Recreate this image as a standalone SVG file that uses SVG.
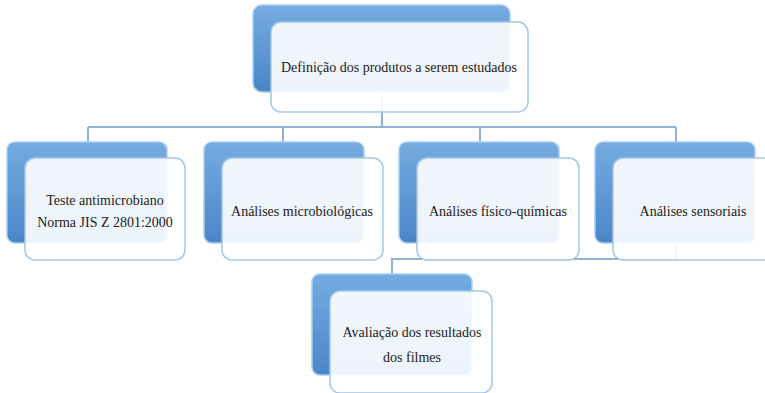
<svg xmlns="http://www.w3.org/2000/svg" width="765" height="393" viewBox="0 0 765 393">
<defs>
<linearGradient id="blue" x1="0" y1="0" x2="0" y2="1">
<stop offset="0" stop-color="#74abe0"/>
<stop offset="0.5" stop-color="#5f9ad6"/>
<stop offset="1" stop-color="#4a85c6"/>
</linearGradient>
<style>
.back{fill:url(#blue);stroke:#a9cdef;stroke-width:1.5}
.front{fill:#ffffff;fill-opacity:0.9;stroke:#a3c6e8;stroke-width:1.5}
.conn{fill:none;stroke:#8fb1d5;stroke-width:2}
.t{font-size:14px;fill:#222222;text-anchor:middle}
</style>
</defs>
<rect width="765" height="393" fill="#ffffff"/>
<g id="connectors">
<path class="conn" d="M382 92 V127 M88 127 H676 M88 127 V142 M283 127 V142 M480 127 V142 M676 127 V142"/>
<path class="conn" d="M676 243 V259 H392 V274"/>
</g>
<g id="n0">
<rect class="back" x="253" y="5" width="257" height="87" rx="9"/>
<rect class="front" x="271" y="22" width="257" height="90" rx="10"/>
<text class="t" font-family="Liberation Serif, DejaVu Serif, serif" x="399" y="72">Definição dos produtos a serem estudados</text>
</g>
<g id="n1">
<rect class="back" x="7" y="142" width="160" height="101" rx="8"/>
<rect class="front" x="25" y="158" width="160" height="102" rx="10"/>
<text class="t" font-family="Liberation Serif, DejaVu Serif, serif" x="105" y="205">Teste antimicrobiano</text>
<text class="t" font-family="Liberation Serif, DejaVu Serif, serif" x="105" y="227">Norma JIS Z 2801:2000</text>
</g>
<g id="n2">
<rect class="back" x="204" y="142" width="160" height="101" rx="8"/>
<rect class="front" x="222" y="158" width="161" height="102" rx="10"/>
<text class="t" font-family="Liberation Serif, DejaVu Serif, serif" x="302" y="216">Análises microbiológicas</text>
</g>
<g id="n3">
<rect class="back" x="399" y="142" width="160" height="101" rx="8"/>
<rect class="front" x="417" y="158" width="162" height="102" rx="10"/>
<text class="t" font-family="Liberation Serif, DejaVu Serif, serif" x="498" y="216">Análises físico-químicas</text>
</g>
<g id="n4">
<rect class="back" x="595" y="142" width="160" height="101" rx="8"/>
<rect class="front" x="613" y="158" width="161" height="102" rx="10"/>
<text class="t" font-family="Liberation Serif, DejaVu Serif, serif" x="693" y="216">Análises sensoriais</text>
</g>
<g id="n5">
<rect class="back" x="312" y="274" width="160" height="101" rx="8"/>
<rect class="front" x="330" y="291" width="162" height="102" rx="10"/>
<text class="t" font-family="Liberation Serif, DejaVu Serif, serif" x="412" y="337">Avaliação dos resultados</text>
<text class="t" font-family="Liberation Serif, DejaVu Serif, serif" x="412" y="362">dos filmes</text>
</g>
</svg>
